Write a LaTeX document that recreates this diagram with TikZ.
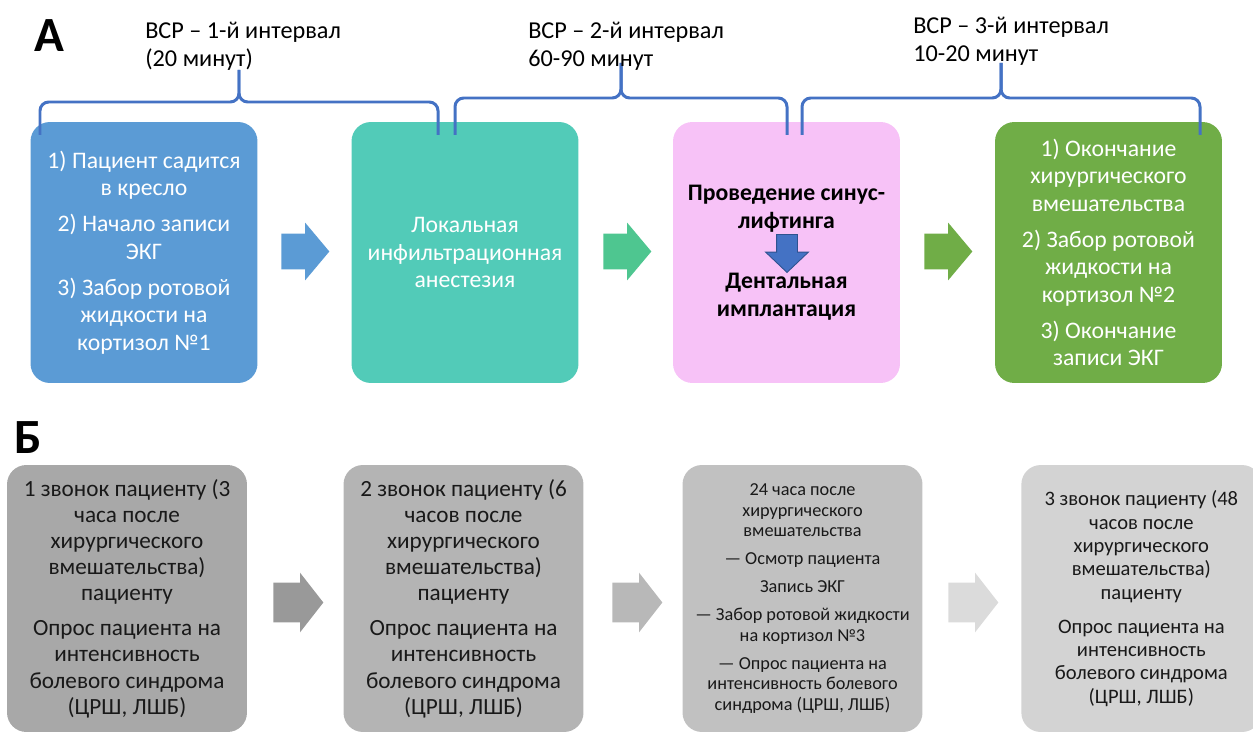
\documentclass[tikz,border=0pt]{standalone}
\usepackage{fontspec}
\setmainfont{Carlito}
\usepackage{xcolor}
\usetikzlibrary{shapes.arrows, positioning, calc}

\definecolor{bluebox}{HTML}{5B9BD5}
\definecolor{tealbox}{HTML}{52CBB8}
\definecolor{pinkbox}{HTML}{F7C2F7}
\definecolor{greenbox}{HTML}{70AD47}
\definecolor{mintarrow}{HTML}{4EC690}
\definecolor{bracecol}{HTML}{4472C4}
\definecolor{bracedark}{HTML}{2F528F}
\definecolor{greyA}{HTML}{A8A8A8}
\definecolor{greyB}{HTML}{B4B4B4}
\definecolor{greyC}{HTML}{C1C1C1}
\definecolor{greyD}{HTML}{D3D3D3}

\begin{document}
\begin{tikzpicture}[x=0.02cm, y=-0.02cm,
    stagebox/.style={rectangle, rounded corners=11pt, minimum width=4.54cm,
        minimum height=5.22cm, align=center, inner sep=0pt,
        font=\fontsize{13.5}{15.6}\selectfont},
    callbox/.style={rectangle, rounded corners=11pt, minimum width=4.8cm,
        minimum height=5.34cm, align=center, inner sep=0pt, text=black!90,
        font=\fontsize{13.2}{14.9}\selectfont},
    stagearrow/.style={single arrow, inner xsep=0pt, inner ysep=0.35cm,
        single arrow head extend=0.22cm, single arrow tip angle=100,
        minimum height=0.96cm, anchor=tail},
    callarrow/.style={single arrow, inner xsep=0pt, inner ysep=0.39cm,
        single arrow head extend=0.2cm, single arrow tip angle=104,
        minimum height=1cm, anchor=tail},
    brace/.style={draw=bracecol, line width=1.7pt, rounded corners=5pt},
    interval/.style={align=left, anchor=north west, inner sep=0pt,
        font=\fontsize{13.8}{15.8}\selectfont},
    panel/.style={font=\fontsize{28}{30}\selectfont\bfseries, inner sep=0pt}
  ]
  \useasboundingbox (0,0) rectangle (1253,733);

  % panel A
  \node[panel, anchor=north west] (lblA) at (34,19) {А};

  \node[stagebox, fill=bluebox, text=white] (a1) at (144,252.5)
    {1) Пациент садится\\в кресло\\[5pt]
     2) Начало записи\\ЭКГ\\[5pt]
     3) Забор ротовой\\жидкости на\\кортизол №1};
  \node[stagebox, fill=tealbox, text=white] (a2) at (465,252.5)
    {Локальная\\инфильтрационная\\анестезия};
  \node[stagebox, fill=pinkbox, text=black, font=\fontsize{13.5}{16}\selectfont\bfseries]
    (a3) at (786.5,252.5)
    {Проведение синус-\\лифтинга\\[18pt]Дентальная\\имплантация};
  \node[stagebox, fill=greenbox, text=white] (a4) at (1108.5,252.5)
    {1) Окончание\\хирургического\\вмешательства\\[5pt]
     2) Забор ротовой\\жидкости на\\кортизол №2\\[5pt]
     3) Окончание\\записи ЭКГ};

  \node[stagearrow, fill=bluebox] (ar1) at (281,251.5) {};
  \node[stagearrow, fill=mintarrow] (ar2) at (603,251.5) {};
  \node[stagearrow, fill=greenbox] (ar3) at (924,251.5) {};

  % arrow inside the pink box
  \node[single arrow, shape border rotate=270, fill=bracecol, draw=bracedark,
        line width=0.5pt, inner sep=0.2cm, single arrow head extend=0.22cm,
        single arrow tip angle=93, minimum height=0.76cm, anchor=tail]
    (down) at (787,234) {};

  % braces over the boxes
  \draw[brace] (40,135) -- (40,102) -- (239,102) -- (239,70);
  \draw[brace] (438,135) -- (438,102) -- (239,102) -- (239,70);
  \draw[brace] (455,135) -- (455,98) -- (621,98) -- (621,63);
  \draw[brace] (787,135) -- (787,98) -- (621,98) -- (621,63);
  \draw[brace] (802,135) -- (802,98) -- (1001,98) -- (1001,63);
  \draw[brace] (1200,135) -- (1200,98) -- (1001,98) -- (1001,63);

  \node[interval] (int1) at (145,22) {ВСР – 1-й интервал\\(20 минут)};
  \node[interval] (int2) at (528,22) {ВСР – 2-й интервал\\60-90 минут};
  \node[interval] (int3) at (913,17) {ВСР – 3-й интервал\\10-20 минут};

  % panel B
  \node[panel, anchor=north west] (lblB) at (14,421) {Б};

  \node[callbox, fill=greyA] (b1) at (127,598.5)
    {1 звонок пациенту (3\\часа после\\хирургического\\вмешательства)\\пациенту\\[5pt]
     Опрос пациента на\\интенсивность\\болевого синдрома\\(ЦРШ, ЛШБ)};
  \node[callbox, fill=greyB] (b2) at (463.5,598.5)
    {2 звонок пациенту (6\\часов после\\хирургического\\вмешательства)\\пациенту\\[5pt]
     Опрос пациента на\\интенсивность\\болевого синдрома\\(ЦРШ, ЛШБ)};
  \node[callbox, fill=greyC, font=\fontsize{10.4}{11.6}\selectfont] (b3) at (802.5,598.5)
    {24 часа после\\хирургического\\вмешательства\\[4.4pt]
     — Осмотр пациента\\[4.4pt]
     Запись ЭКГ\\[4.4pt]
     — Забор ротовой жидкости\\на кортизол №3\\[4.4pt]
     — Опрос пациента на\\интенсивность болевого\\синдрома (ЦРШ, ЛШБ)};
  \node[callbox, fill=greyD, anchor=west, font=\fontsize{11.7}{13.3}\selectfont]
    (b4) at (1021,598.5)
    {3 звонок пациенту (48\\часов после\\хирургического\\вмешательства)\\пациенту\\[6pt]
     Опрос пациента на\\интенсивность\\болевого синдрома\\(ЦРШ, ЛШБ)};

  \node[callarrow, fill=black!40] (br1) at (273,602.5) {};
  \node[callarrow, fill=black!28] (br2) at (612,602.5) {};
  \node[callarrow, fill=black!14] (br3) at (948,602.5) {};
\end{tikzpicture}
\end{document}
